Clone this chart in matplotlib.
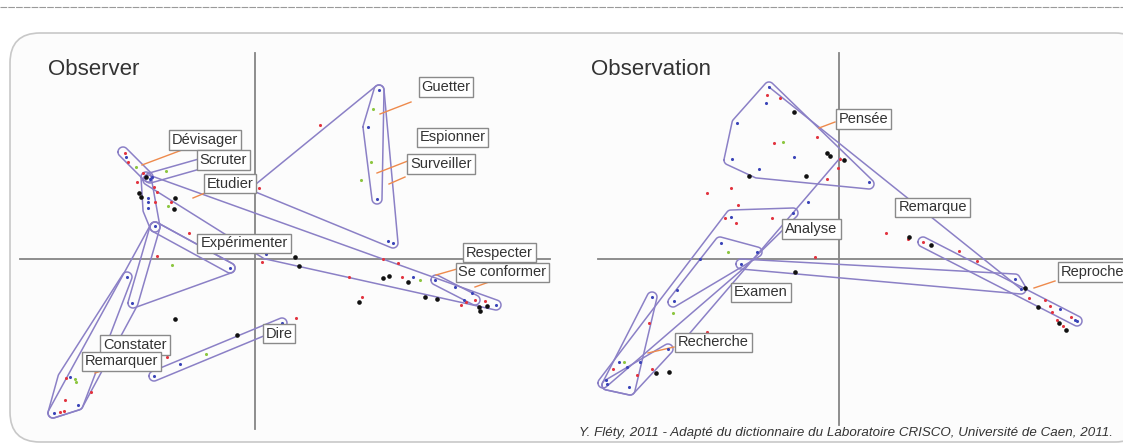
import numpy as np
import matplotlib
matplotlib.use("Agg")
from matplotlib import pyplot as plt
from matplotlib.patches import FancyBboxPatch
from matplotlib.lines import Line2D
from matplotlib.transforms import IdentityTransform

plt.rcParams['font.family'] = ['Liberation Sans', 'DejaVu Sans']

# ---- données : panneau "Observer" (coordonnées factorielles) ----
obs_red = [(-1.00, 0.57), (-0.84, 0.57), (-0.98, 0.67), (-1.01, 0.72), (-1.12, 0.86), (-1.18, 0.77),
           (-1.30, 1.06), (-1.27, 0.97), (0.65, 1.34), (0.04, 0.71), (0.07, -0.03), (0.94, -0.18),
           (1.28, 0.00), (1.43, -0.04), (1.47, -0.18), (1.07, -0.38), (2.06, -0.46), (2.11, -0.43),
           (2.20, -0.41), (2.30, -0.42), (0.41, -0.59), (-0.98, 0.03), (-0.66, 0.26), (-0.88, -0.98),
           (-1.89, -1.19), (-1.90, -1.41), (-1.95, -1.53), (-1.91, -1.52), (-1.64, -1.33)]
obs_blue = [(-1.07, 0.61), (-1.07, 0.57), (-1.07, 0.51), (-1.29, 1.02), (-1.03, 0.82), (-1.05, 0.80),
            (1.24, 1.69), (1.13, 1.32), (1.22, 0.60), (1.38, 0.16), (1.33, 0.18), (0.11, 0.05),
            (1.58, -0.18), (1.80, -0.21), (2.00, -0.28), (2.17, -0.34), (2.41, -0.46), (2.09, -0.41),
            (-1.00, 0.33), (-1.23, -0.44), (-1.28, -0.18), (-0.75, -1.05), (-1.01, -1.17), (-1.85, -1.18),
            (-2.01, -1.54), (-1.77, -1.46), (0.27, -0.64), (-0.25, -0.09)]
obs_green = [(-0.87, 0.53), (-0.89, 0.88), (-1.19, 0.92), (1.18, 1.50), (1.16, 0.97), (1.06, 0.79),
             (1.65, -0.21), (-0.83, -0.06), (-0.49, -0.95), (-1.80, -1.20), (-1.79, -1.23)]
obs_black = [(-1.16, 0.66), (-1.14, 0.62), (-0.80, 0.61), (-0.81, 0.50), (-1.09, 0.82), (0.40, 0.02),
             (0.44, -0.07), (1.28, -0.19), (1.34, -0.17), (1.53, -0.23), (1.70, -0.38), (1.82, -0.40),
             (1.04, -0.43), (2.24, -0.48), (2.25, -0.52), (2.32, -0.47), (-0.80, -0.60), (-0.18, -0.76)]

obs_hulls = [
    [(-1.32, 1.07), (-1.07, 0.82)],
    [(-1.05, 0.81), (-0.45, 0.98)],
    [(-1.07, 0.79), (0.11, 0.05), (2.41, -0.46)],
    [(0.04, 0.71), (1.24, 1.69), (1.38, 0.16)],
    [(1.24, 1.69), (1.13, 1.32), (1.22, 0.60)],
    [(1.81, -0.21), (2.20, -0.41)],
    [(-1.09, 0.82), (-1.07, 0.49), (-1.00, 0.32)],
    [(-1.00, 0.32), (-0.25, -0.09)],
    [(-1.00, 0.32), (-0.25, -0.09), (-1.22, -0.44)],
    [(-1.28, -0.18), (-1.92, -1.18), (-2.02, -1.54), (-1.77, -1.46)],
    [(-1.00, 0.32), (-1.22, -0.44), (-1.77, -1.46), (-2.02, -1.54)],
    [(-1.01, -1.17), (0.27, -0.64)],
]
obs_words = ["Guetter", "Espionner", "Surveiller", "Dévisager", "Scruter", "Etudier",
             "Expérimenter", "Dire", "Constater", "Remarquer", "Respecter", "Se conformer"]

# ---- données : panneau "Observation" ----
obn_red = [(-0.72, 1.64), (-0.59, 1.61), (-0.65, 1.16), (-0.22, 1.22), (0.01, 1.00), (-0.01, 0.91),
           (-0.12, 0.80), (-1.32, 0.66), (-1.08, 0.71), (-1.01, 0.54), (-1.14, 0.41), (-1.03, 0.36),
           (-0.67, 0.41), (0.57, 0.43), (0.47, 0.26), (0.69, 0.20), (0.84, 0.17), (1.20, 0.08),
           (1.38, -0.02), (-0.24, 0.02), (-1.32, -0.73), (1.90, -0.39), (2.06, -0.41), (2.11, -0.47),
           (2.13, -0.53), (2.18, -0.61), (2.32, -0.58), (2.24, -0.67), (-1.90, -0.64), (-2.26, -1.10),
           (-2.02, -1.16), (-1.87, -1.10)]
obn_blue = [(-0.70, 1.72), (-0.73, 1.56), (-1.02, 1.36), (-0.45, 1.02), (-1.07, 1.00), (-0.80, 0.90),
            (0.30, 0.77), (-0.31, 0.57), (-0.46, 0.46), (-1.08, 0.42), (-1.18, 0.16), (-1.39, 0.00),
            (-0.98, -0.05), (-0.82, 0.07), (-1.62, -0.31), (-1.65, -0.42), (-1.71, -0.90), (1.76, -0.20),
            (1.82, -0.30), (2.21, -0.50), (2.36, -0.61), (2.38, -0.62), (-1.87, -0.38), (-2.20, -1.03),
            (-2.12, -1.08), (-1.99, -1.03), (-2.10, -1.28), (-2.33, -1.21), (-2.32, -1.25)]
obn_green = [(-0.56, 1.17), (-1.11, 0.07), (-1.66, -0.54), (-2.15, -1.03)]
obn_black = [(-0.45, 1.47), (-0.12, 1.06), (-0.09, 1.03), (0.05, 0.99), (-0.90, 0.83), (-0.33, 0.83),
             (0.70, 0.22), (0.92, 0.14), (-0.44, -0.13), (1.86, -0.29), (1.99, -0.48), (2.20, -0.64),
             (2.27, -0.71), (-1.83, -1.14), (-1.70, -1.13)]

obn_hulls = [
    [(-0.70, 1.72), (-1.02, 1.36), (-1.10, 0.99), (-0.82, 0.86), (0.30, 0.75)],
    [(-1.08, 0.44), (-0.46, 0.46), (-0.98, -0.05), (-2.36, -1.24)],
    [(-1.19, 0.17), (-0.82, 0.07), (-1.66, -0.43)],
    [(-0.98, -0.05), (1.76, -0.20), (1.82, -0.30)],
    [(0.84, 0.17), (2.38, -0.62)],
    [(-1.87, -0.38), (-2.32, -1.26), (-2.09, -1.31)],
    [(-2.32, -1.26), (-1.71, -0.90), (-2.09, -1.31)],
]
obn_lines = [
    [(-0.70, 1.72), (1.82, -0.30)],
    [(0.01, 1.01), (-1.49, -0.74)],
]
obn_words = ["Pensée", "Remarque", "Analyse", "Examen", "Recherche", "Reproche"]

# ---- mise en page (positions des étiquettes et des traits de rappel) ----
obs_label_pos = [(1.91, 1.72), (1.975, 1.215), (1.86, 0.95), (-0.50, 1.19), (-0.315, 0.99), (-0.25, 0.755),
                 (-0.11, 0.155), (0.24, -0.745), (-1.20, -0.86), (-1.335, -1.025), (2.445, 0.065), (2.475, -0.135)]
obs_leaders = [[(1.25, 1.45), (1.56, 1.57)], [(1.22, 0.86), (1.63, 1.02)], [(1.34, 0.75), (1.50, 0.82)],
               [(-1.13, 0.94), (-0.73, 1.09)], [(-0.62, 0.61), (-0.50, 0.66)], [(1.81, -0.16), (2.09, -0.08)],
               [(2.20, -0.28), (2.34, -0.23)], [(-1.60, -1.14), (-1.51, -1.11)]]
obn_label_pos = [(0.245, 1.40), (0.935, 0.515), (-0.275, 0.30), (-0.78, -0.335), (-1.255, -0.835), (2.215, -0.13)]
obn_leaders = [[(-0.20, 1.31), (-0.04, 1.37)], [(1.95, -0.29), (2.16, -0.22)], [(-1.91, -0.94), (-1.65, -0.88)]]

PURPLE = '#8b80c6'
ORANGE = '#ee8a4c'
AXCOL = '#858585'


def buffered_hull(verts, r=0.05, n=48):
    # enveloppe convexe arrondie (cercles de rayon r autour des sommets)
    t = np.linspace(0, 2 * np.pi, n, endpoint=False)
    pts = []
    for x, y in verts:
        pts += list(zip(x + r * np.cos(t), y + r * np.sin(t)))
    pts = sorted(pts)

    def cross(o, a, b):
        return (a[0] - o[0]) * (b[1] - o[1]) - (a[1] - o[1]) * (b[0] - o[0])

    lower, upper = [], []
    for p in pts:
        while len(lower) >= 2 and cross(lower[-2], lower[-1], p) <= 0:
            lower.pop()
        lower.append(p)
    for p in reversed(pts):
        while len(upper) >= 2 and cross(upper[-2], upper[-1], p) <= 0:
            upper.pop()
        upper.append(p)
    h = lower[:-1] + upper[:-1]
    h.append(h[0])
    return np.array(h)


def draw_panel(ax, title, red, blue, green, black, hulls, lines, words, label_pos, leaders,
               vline, hline):
    ax.plot([0, 0], vline, color=AXCOL, lw=1.3, zorder=1)
    ax.plot(hline, [0, 0], color=AXCOL, lw=1.3, zorder=1)
    for hv in hulls:
        h = buffered_hull(hv)
        ax.plot(h[:, 0], h[:, 1], color=PURPLE, lw=1.1, zorder=2)
    for ln in lines:
        ln = np.array(ln)
        ax.plot(ln[:, 0], ln[:, 1], color=PURPLE, lw=1.1, zorder=2)
    for ld in leaders:
        ld = np.array(ld)
        ax.plot(ld[:, 0], ld[:, 1], color=ORANGE, lw=1.0, zorder=2)
    for pts, c, s in [(red, '#e2343f', 5), (blue, '#3a44b8', 5), (green, '#8cc63f', 5), (black, '#111111', 11)]:
        p = np.array(pts)
        ax.scatter(p[:, 0], p[:, 1], s=s, color=c, linewidths=0, zorder=3)
    for w, (x, y) in zip(words, label_pos):
        ha = 'left' if w == 'Reproche' else 'center'
        ax.text(x, y, w, ha=ha, va='center', fontsize=10.5, color='#333333', zorder=5,
                bbox=dict(boxstyle='square,pad=0.2', fc='white', ec='#8a8a8a', lw=1.0))
    ax.text(0.085 if title == 'Observer' else 0.055, 0.843, title, transform=ax.transAxes,
            fontsize=16, color='#333333', va='center', ha='left')


fig = plt.figure(figsize=(11.23, 4.45), dpi=100)
fig.patch.set_facecolor('white')

frame = FancyBboxPatch((10, 3), 1135, 409, boxstyle="round,pad=0,rounding_size=30",
                       transform=IdentityTransform(), fc='#fcfcfc', ec='#c8c8c8', lw=1.2, zorder=0)
fig.add_artist(frame)
fig.add_artist(Line2D([0, 1], [0.984, 0.984], transform=fig.transFigure,
                      color='#9a9a9a', lw=0.8, linestyle=(0, (6, 1))))

ax1 = fig.add_axes([0, 0, 560 / 1123, 1])
ax1.set_xlim(-2.55, 3.05)
ax1.set_ylim(-1.86, 2.59)
ax1.axis('off')
draw_panel(ax1, 'Observer', obs_red, obs_blue, obs_green, obs_black, obs_hulls, [],
           obs_words, obs_label_pos, obs_leaders, (2.06, -1.70), (-2.35, 2.95))

ax2 = fig.add_axes([560 / 1123, 0, 563 / 1123, 1])
ax2.set_xlim(-2.79, 2.84)
ax2.set_ylim(-1.86, 2.59)
ax2.axis('off')
draw_panel(ax2, 'Observation', obn_red, obn_blue, obn_green, obn_black, obn_hulls, obn_lines,
           obn_words, obn_label_pos, obn_leaders, (2.06, -1.66), (-2.41, 2.84))

fig.text(846 / 1123, 1 - 433 / 445,
         "Y. Fléty, 2011 - Adapté du dictionnaire du Laboratoire CRISCO, Université de Caen, 2011.",
         ha='center', va='center', fontsize=9.6, style='italic', color='#333333')

fig.savefig('out.png', dpi=100)
